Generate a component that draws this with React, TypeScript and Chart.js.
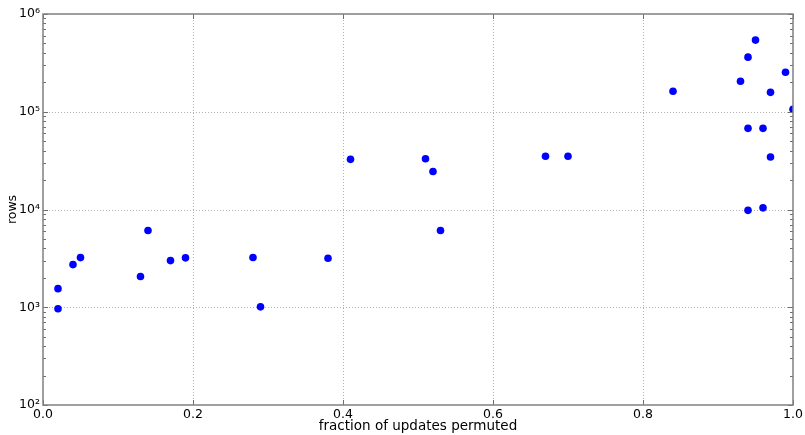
import React, { useEffect, useRef } from "react";
import { Chart, registerables } from "chart.js";

Chart.register(...registerables);

const fractionPermuted: number[] = [
  0.02, 0.02, 0.04, 0.05, 0.13, 0.14, 0.17, 0.19, 0.28, 0.29, 0.38, 0.41, 0.51, 0.52, 0.53,
  0.67, 0.70, 0.84, 0.93, 0.94, 0.95, 0.94, 0.96, 0.97, 0.97, 0.99, 1.0, 0.94, 0.96,
];
const rows: number[] = [
  1550, 965, 2730, 3220, 2060, 6100, 3000, 3200, 3230, 1010, 3170, 32600, 33000, 24500, 6100,
  35000, 35000, 162000, 205000, 362000, 541000, 67600, 67600, 158000, 34500, 254000, 106000, 9800, 10400,
];

const xTicks: number[] = [0, 0.2, 0.4, 0.6, 0.8, 1.0];
const yDecades: number[] = [1e2, 1e3, 1e4, 1e5, 1e6];
const yMinorFactors: number[] = [2, 3, 4, 5, 6, 7, 8, 9];
const superscripts: Record<string, string> = { "2": "²", "3": "³", "4": "⁴", "5": "⁵", "6": "⁶" };

const xTitle = "fraction of updates permuted";
const yTitle = "rows";

const frameGridPlugin = {
  id: "frameGrid",
  beforeDatasetsDraw(chart: any) {
    const { ctx, chartArea } = chart;
    const { left, right, top, bottom } = chartArea;
    const xs = chart.scales.x;
    const ys = chart.scales.y;
    ctx.save();
    ctx.strokeStyle = "rgba(0,0,0,0.3)";
    ctx.lineWidth = 1;
    ctx.setLineDash([1, 2]);
    xTicks.forEach((v) => {
      const px = Math.round(xs.getPixelForValue(v)) + 0.5;
      if (px <= left + 1 || px >= right - 1) return;
      ctx.beginPath();
      ctx.moveTo(px, top);
      ctx.lineTo(px, bottom);
      ctx.stroke();
    });
    yDecades.forEach((v) => {
      const py = Math.round(ys.getPixelForValue(v)) + 0.5;
      if (py <= top + 1 || py >= bottom - 1) return;
      ctx.beginPath();
      ctx.moveTo(left, py);
      ctx.lineTo(right, py);
      ctx.stroke();
    });
    ctx.restore();
  },
  afterDatasetsDraw(chart: any) {
    const { ctx, chartArea } = chart;
    const { left, right, top, bottom } = chartArea;
    const xs = chart.scales.x;
    const ys = chart.scales.y;
    ctx.save();
    ctx.strokeStyle = "#6e6e6e";
    ctx.lineWidth = 1;
    ctx.setLineDash([]);
    const major = 5;
    const minor = 3;
    xTicks.forEach((v) => {
      const px = Math.round(xs.getPixelForValue(v)) + 0.5;
      ctx.beginPath();
      ctx.moveTo(px, bottom);
      ctx.lineTo(px, bottom - major);
      ctx.moveTo(px, top);
      ctx.lineTo(px, top + major);
      ctx.stroke();
    });
    yDecades.forEach((d, i) => {
      const py = Math.round(ys.getPixelForValue(d)) + 0.5;
      ctx.beginPath();
      ctx.moveTo(left, py);
      ctx.lineTo(left + major, py);
      ctx.moveTo(right, py);
      ctx.lineTo(right - major, py);
      ctx.stroke();
      if (i < yDecades.length - 1) {
        yMinorFactors.forEach((f) => {
          const my = Math.round(ys.getPixelForValue(d * f)) + 0.5;
          ctx.beginPath();
          ctx.moveTo(left, my);
          ctx.lineTo(left + minor, my);
          ctx.moveTo(right, my);
          ctx.lineTo(right - minor, my);
          ctx.stroke();
        });
      }
    });
    ctx.strokeStyle = "#808080";
    ctx.lineWidth = 1.5;
    ctx.strokeRect(left, top, right - left, bottom - top);
    ctx.restore();
  },
};

export default function App() {
  const canvasRef = useRef<HTMLCanvasElement | null>(null);

  useEffect(() => {
    document.body.style.margin = "0";
    const canvas = canvasRef.current;
    if (!canvas) return;
    const family = "'DejaVu Sans', sans-serif";
    const chart = new Chart(canvas, {
      type: "scatter",
      data: {
        datasets: [
          {
            label: "rows",
            data: fractionPermuted.map((x, i) => ({ x, y: rows[i] })),
            backgroundColor: "#0000ff",
            borderColor: "#0000ff",
            borderWidth: 0,
            pointRadius: 3.8,
            pointHoverRadius: 3.8,
          },
        ],
      },
      options: {
        responsive: false,
        animation: false,
        events: [],
        layout: { padding: { top: 14, right: 12, left: 0, bottom: 0 } },
        plugins: { legend: { display: false }, tooltip: { enabled: false } },
        scales: {
          x: {
            type: "linear",
            min: 0,
            max: 1,
            grid: { display: false, drawTicks: false },
            border: { display: false },
            afterBuildTicks: (scale: any) => {
              scale.ticks = xTicks.map((v) => ({ value: v }));
            },
            afterFit: (scale: any) => {
              scale.height = 30;
              scale.paddingLeft = 0;
              scale.paddingRight = 0;
            },
            ticks: {
              autoSkip: false,
              maxRotation: 0,
              padding: 2,
              color: "#000",
              font: { family, size: 12.5 },
              callback: (v: any) => Number(v).toFixed(1),
            },
            title: {
              display: true,
              text: xTitle,
              color: "#000",
              font: { family, size: 13.5 },
              padding: { top: 0, bottom: 0 },
            },
          },
          y: {
            type: "logarithmic",
            min: 100,
            max: 1e6,
            grid: { display: false, drawTicks: false },
            border: { display: false },
            afterBuildTicks: (scale: any) => {
              scale.ticks = yDecades.map((v) => ({ value: v }));
            },
            afterFit: (scale: any) => {
              scale.width = 43;
              scale.paddingTop = 0;
              scale.paddingBottom = 0;
            },
            ticks: {
              autoSkip: false,
              padding: 3,
              color: "#000",
              font: { family, size: 12.5 },
              callback: (v: any) => {
                const e = String(Math.round(Math.log10(Number(v))));
                return "10" + (superscripts[e] || e);
              },
            },
            title: {
              display: true,
              text: yTitle,
              color: "#000",
              font: { family, size: 12.5 },
              padding: { top: 5, bottom: 0 },
            },
          },
        },
      },
      plugins: [frameGridPlugin],
    });
    return () => chart.destroy();
  }, []);

  return (
    <div style={{ position: "absolute", left: 0, top: 0, width: 805, height: 435, background: "#fff" }}>
      <canvas ref={canvasRef} width={805} height={435} style={{ display: "block" }} />
    </div>
  );
}
